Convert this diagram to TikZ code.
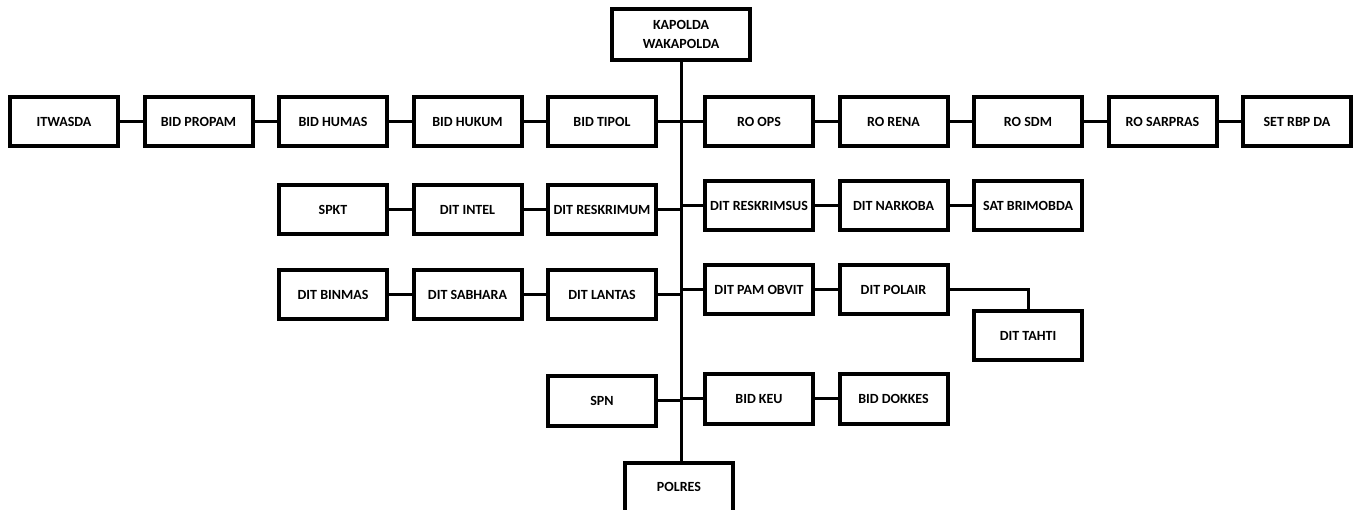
\documentclass[tikz,border=0pt]{standalone}
\usepackage{fontspec}
\setmainfont{Carlito}
\usetikzlibrary{positioning}
\tikzset{%
  link/.style = {line width=3pt},
  u/.style = {rectangle,draw,line width=4pt,minimum width=108pt,
        minimum height=49pt,inner sep=2pt,
        font=\bfseries\fontsize{14}{19}\selectfont},
  head/.style = {u,minimum width=138pt,minimum height=51pt,align=center}
}
\begin{document}
\begin{tikzpicture}[x=1pt,y=-1pt,node distance=22.5pt]
\useasboundingbox (0,0) rectangle (1360,510);
\node[head] (kapolda) at (681,34.5) {KAPOLDA\\WAKAPOLDA};
\node[u] (polres) at (679,487) {POLRES};
% row 1
\node[u] (tipol) at (602,122) {BID TIPOL};
\node[u,left=of tipol] (hukum) {BID HUKUM};
\node[u,left=of hukum] (humas) {BID HUMAS};
\node[u,left=of humas] (propam) {BID PROPAM};
\node[u,left=of propam] (itwasda) {ITWASDA};
\node[u] (ops) at (759,122) {RO OPS};
\node[u,right=of ops] (rena) {RO RENA};
\node[u,right=of rena] (sdm) {RO SDM};
\node[u,right=of sdm] (sarpras) {RO SARPRAS};
\node[u,right=of sarpras] (rbp) {SET RBP DA};
% row 2
\node[u] (reskrimum) at (602,210) {DIT RESKRIMUM};
\node[u,left=of reskrimum] (intel) {DIT INTEL};
\node[u,left=of intel] (spkt) {SPKT};
\node[u] (reskrimsus) at (759,206) {DIT RESKRIMSUS};
\node[u,right=of reskrimsus] (narkoba) {DIT NARKOBA};
\node[u,right=of narkoba] (brimob) {SAT BRIMOBDA};
% row 3
\node[u] (lantas) at (602,295) {DIT LANTAS};
\node[u,left=of lantas] (sabhara) {DIT SABHARA};
\node[u,left=of sabhara] (binmas) {DIT BINMAS};
\node[u] (pamobvit) at (759,290) {DIT PAM OBVIT};
\node[u,right=of pamobvit] (polair) {DIT POLAIR};
\node[u] (tahti) at (1028,336) {DIT TAHTI};
% row 4
\node[u] (spn) at (602,401) {SPN};
\node[u] (keu) at (759,399) {BID KEU};
\node[u,right=of keu] (dokkes) {BID DOKKES};

% spine
\draw[link] (kapolda.south) -- (kapolda.south |- polres.north);
% chains
\foreach \a/\b in {itwasda/propam,propam/humas,humas/hukum,hukum/tipol,
    ops/rena,rena/sdm,sdm/sarpras,sarpras/rbp,spkt/intel,intel/reskrimum,
    reskrimsus/narkoba,narkoba/brimob,binmas/sabhara,sabhara/lantas,
    pamobvit/polair,keu/dokkes}
  \draw[link] (\a.east) -- (\b.west);
\foreach \a in {tipol,reskrimum,lantas,spn}
  \draw[link] (\a.east) -- (\a.east -| kapolda.south);
\foreach \a in {ops,reskrimsus,pamobvit,keu}
  \draw[link] (\a.west) -- (\a.west -| kapolda.south);
\draw[link] (polair.east) -| (tahti.north);
\end{tikzpicture}
\end{document}
